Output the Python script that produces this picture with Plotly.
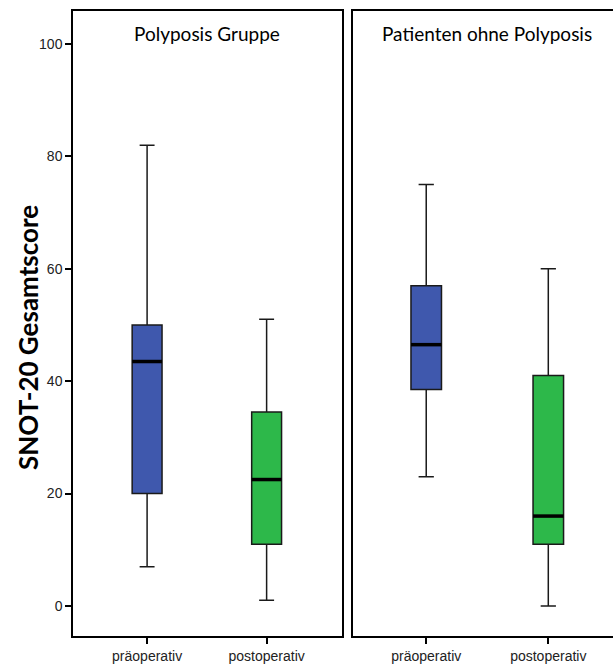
import plotly.graph_objects as go

categories = ["präoperativ", "postoperativ"]
panels = ["Polyposis Gruppe", "Patienten ohne Polyposis"]
y_title = "SNOT-20 Gesamtscore"

# [präoperativ, postoperativ] per panel
lower = [[7, 1], [23, 0]]
q1 = [[20, 11], [38.5, 11]]
median = [[43.5, 22.5], [46.5, 16]]
q3 = [[50, 34.5], [57, 41]]
upper = [[82, 51], [75, 60]]

colors = ["#3F58AD", "#2DB84A"]
box_w = 0.25

fig = go.Figure()
for p in range(2):
    xa = "x" if p == 0 else "x2"
    for i in range(2):
        fig.add_trace(go.Box(
            x=[i], q1=[q1[p][i]], median=[median[p][i]], q3=[q3[p][i]],
            lowerfence=[lower[p][i]], upperfence=[upper[p][i]],
            width=box_w, whiskerwidth=0.5,
            fillcolor=colors[i], line=dict(color="#1a1a1a", width=1.5),
            boxpoints=False, hoverinfo="skip", showlegend=False,
            xaxis=xa, yaxis="y" if p == 0 else "y2",
        ))
        fig.add_trace(go.Scatter(
            x=[i - box_w / 2, i + box_w / 2], y=[median[p][i], median[p][i]],
            mode="lines", line=dict(color="black", width=3.5),
            hoverinfo="skip", showlegend=False,
            xaxis=xa, yaxis="y" if p == 0 else "y2",
        ))

tickfont = dict(family="Liberation Sans, Arial", size=14, color="#222")
axis_common = dict(showgrid=False, zeroline=False, showline=True, linecolor="black",
                   linewidth=1.5, ticks="outside", ticklen=6, tickcolor="black",
                   tickwidth=1.5, tickfont=tickfont)

fig.update_layout(
    width=613, height=666,
    margin=dict(l=73, r=0, t=11, b=30),
    paper_bgcolor="white", plot_bgcolor="white",
    xaxis=dict(domain=[0, 0.498], range=[-0.62, 1.63], tickvals=[0, 1],
               ticktext=categories, mirror=True, **axis_common),
    xaxis2=dict(domain=[0.5185, 1], range=[-0.6, 1.53], tickvals=[0, 1],
                ticktext=categories, mirror=True, anchor="y2", **axis_common),
    yaxis=dict(range=[-5.34, 105.87], tickvals=[0, 20, 40, 60, 80, 100],
               mirror=True, **axis_common),
    yaxis2=dict(range=[-5.34, 105.87], anchor="x2", showgrid=False, zeroline=False,
                showline=True, linecolor="black", linewidth=1.5, showticklabels=False,
                ticks=""),
    annotations=[
        dict(text=panels[0], x=(207 - 73) / 540, y=(636 - 33) / 625, xref="paper", yref="paper",
             xanchor="center", yanchor="middle", showarrow=False,
             font=dict(family="Lato, Open Sans", size=19, color="black")),
        dict(text=panels[1], x=(487 - 73) / 540, y=(636 - 33) / 625, xref="paper", yref="paper",
             xanchor="center", yanchor="middle", showarrow=False,
             font=dict(family="Lato, Open Sans", size=19, color="black")),
        dict(text="<b>" + y_title + "</b>", x=(28 - 73) / 540, y=(636 - 338) / 625,
             xref="paper", yref="paper", xanchor="center", yanchor="middle",
             textangle=-90, showarrow=False,
             font=dict(family="Lato, Open Sans", size=26, color="black")),
    ],
)

fig.write_html("out.html")
